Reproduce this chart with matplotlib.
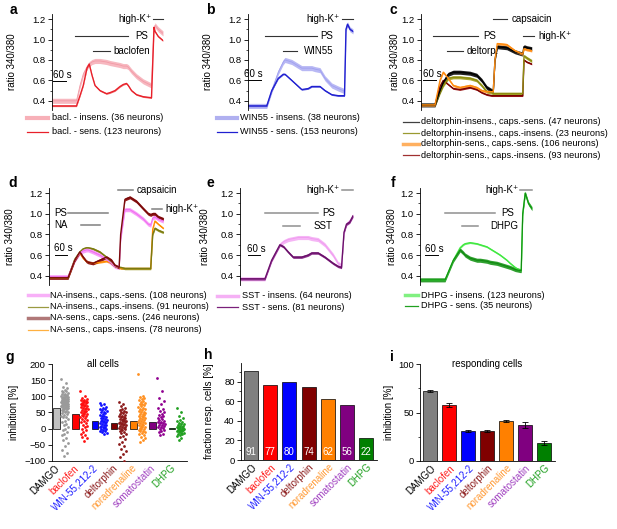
import numpy as np
import matplotlib
matplotlib.use('Agg')
import matplotlib.pyplot as plt
from matplotlib.lines import Line2D
from matplotlib.ticker import MultipleLocator

plt.rcParams['font.family'] = ['Liberation Sans', 'DejaVu Sans']
plt.rcParams['axes.linewidth'] = 0.6

# ---- calcium traces (ratio 340/380), time in s ----
a_t = [0, 98, 112, 125, 140, 149, 160, 172, 192, 218, 232, 252, 272, 285, 298, 305, 318, 338, 365, 398, 402, 408, 412, 425, 444]
a_insens = [0.40, 0.40, 0.55, 0.66, 0.73, 0.76, 0.78, 0.79, 0.79, 0.78, 0.77, 0.76, 0.75, 0.74, 0.74, 0.73, 0.69, 0.64, 0.59, 0.55, 0.80, 1.10, 1.14, 1.10, 1.06]
a_sens = [0.35, 0.35, 0.45, 0.55, 0.72, 0.76, 0.65, 0.55, 0.50, 0.47, 0.48, 0.50, 0.54, 0.56, 0.57, 0.55, 0.50, 0.46, 0.44, 0.43, 0.70, 1.12, 1.08, 1.03, 0.99]

b_t = [0, 75, 95, 121, 141, 148, 175, 215, 241, 255, 268, 288, 308, 335, 361, 381, 386, 392, 398, 408, 420]
b_insens = [0.35, 0.35, 0.50, 0.68, 0.78, 0.80, 0.78, 0.72, 0.72, 0.72, 0.71, 0.70, 0.62, 0.55, 0.52, 0.50, 0.49, 1.10, 1.15, 1.10, 1.08]
b_sens = [0.35, 0.35, 0.50, 0.62, 0.66, 0.66, 0.60, 0.51, 0.52, 0.54, 0.54, 0.54, 0.50, 0.46, 0.45, 0.45, 0.45, 1.10, 1.15, 1.10, 1.08]

c_t = [0, 56, 76, 89, 109, 129, 156, 196, 223, 243, 263, 283, 289, 296, 305, 343, 376, 403, 407, 412, 423, 443]
c_ins_cs = [0.36, 0.36, 0.50, 0.58, 0.66, 0.68, 0.68, 0.67, 0.65, 0.60, 0.53, 0.50, 0.49, 0.80, 0.93, 0.92, 0.88, 0.86, 0.86, 0.93, 0.92, 0.91]
c_ins_ci = [0.36, 0.36, 0.48, 0.55, 0.62, 0.63, 0.63, 0.62, 0.60, 0.55, 0.49, 0.48, 0.47, 0.47, 0.47, 0.47, 0.47, 0.47, 0.47, 0.84, 0.82, 0.79]
c_sen_cs = [0.36, 0.36, 0.60, 0.68, 0.62, 0.55, 0.53, 0.55, 0.53, 0.50, 0.49, 0.49, 0.49, 0.80, 0.96, 0.95, 0.89, 0.86, 0.86, 0.91, 0.90, 0.89]
c_sen_ci = [0.36, 0.36, 0.54, 0.60, 0.56, 0.52, 0.51, 0.53, 0.51, 0.48, 0.46, 0.45, 0.45, 0.45, 0.45, 0.45, 0.45, 0.45, 0.45, 0.80, 0.78, 0.76]

d_t = [0, 76, 103, 123, 136, 149, 156, 176, 203, 229, 249, 263, 280, 286, 303, 323, 349, 376, 396, 406, 414, 423, 436, 456]
d_ins_cs = [0.39, 0.39, 0.55, 0.62, 0.64, 0.65, 0.65, 0.63, 0.60, 0.56, 0.52, 0.49, 0.48, 0.75, 1.04, 1.04, 1.00, 0.95, 0.90, 0.89, 0.96, 0.97, 0.95, 0.93]
d_ins_ci = [0.38, 0.38, 0.56, 0.63, 0.66, 0.67, 0.67, 0.66, 0.63, 0.58, 0.52, 0.49, 0.48, 0.48, 0.47, 0.47, 0.47, 0.47, 0.47, 0.47, 0.80, 0.86, 0.84, 0.82]
d_sen_cs = [0.38, 0.38, 0.55, 0.63, 0.58, 0.54, 0.53, 0.52, 0.55, 0.58, 0.55, 0.50, 0.48, 0.80, 1.14, 1.16, 1.12, 1.05, 1.00, 0.99, 1.00, 1.00, 0.97, 0.95]
d_sen_ci = [0.38, 0.38, 0.55, 0.62, 0.57, 0.54, 0.53, 0.52, 0.53, 0.54, 0.52, 0.49, 0.48, 0.47, 0.47, 0.47, 0.47, 0.47, 0.47, 0.47, 0.85, 0.93, 0.90, 0.86]

e_t = [0, 100, 127, 160, 175, 193, 213, 233, 247, 273, 287, 313, 340, 373, 393, 407, 417, 427, 440, 453]
e_insens = [0.37, 0.37, 0.55, 0.70, 0.73, 0.75, 0.76, 0.77, 0.77, 0.77, 0.76, 0.75, 0.70, 0.60, 0.52, 0.50, 0.82, 0.90, 0.93, 0.98]
e_sens = [0.37, 0.37, 0.55, 0.70, 0.68, 0.63, 0.58, 0.58, 0.58, 0.60, 0.62, 0.62, 0.58, 0.52, 0.49, 0.48, 0.82, 0.90, 0.92, 0.98]

f_t = [0, 100, 133, 160, 173, 180, 200, 227, 240, 267, 280, 307, 320, 347, 360, 380, 400, 404, 410, 420, 433, 447]
f_insens = [0.36, 0.36, 0.55, 0.67, 0.70, 0.71, 0.72, 0.71, 0.70, 0.68, 0.66, 0.62, 0.60, 0.55, 0.52, 0.48, 0.45, 0.45, 1.00, 1.20, 1.10, 1.05]
f_sens = [0.36, 0.36, 0.55, 0.65, 0.62, 0.60, 0.57, 0.55, 0.55, 0.54, 0.53, 0.52, 0.51, 0.49, 0.48, 0.46, 0.45, 0.45, 1.00, 1.20, 1.10, 1.05]

# ---- summary data ----
drugs = ['DAMGO', 'baclofen', 'WIN-55,212-2', 'deltorphin', 'noradrenaline', 'somatostatin', 'DHPG']
bar_colors = ['#808080', '#ff0000', '#0000ff', '#800000', '#ff8000', '#800080', '#008000']
lab_colors = ['#000000', '#ff2020', '#2020ff', '#8b1a1a', '#ff9933', '#a040c0', '#20a020']

inhib_all_mean = [65, 44, 25, 19, 25, 20, 1]
damgo_cells = [155, 140, 130, 125, 120, 118, 115, 112, 110, 108, 106, 105, 104, 102, 100, 99, 98, 97, 96, 95, 94, 93, 92, 91, 90, 90, 89, 88, 87, 86, 85, 85, 84, 83, 82, 81, 80, 80, 79, 78, 77, 76, 75, 75, 74, 73, 72, 71, 70, 70, 69, 68, 67, 66, 65, 64, 63, 62, 61, 60, 58, 56, 55, 53, 50, 48, 45, 42, 40, 37, 35, 30, 25, 20, 15, 10, 5, 0, -5, -10, -15, -20, -28, -35, -45, -55, -65, -75, -85]
bacl_cells = [115, 100, 95, 92, 90, 88, 86, 85, 83, 82, 80, 78, 77, 75, 74, 72, 70, 69, 67, 65, 64, 62, 60, 58, 56, 55, 53, 50, 48, 46, 44, 42, 40, 38, 35, 32, 30, 27, 24, 20, 16, 12, 8, 5, 0, -5, -10, -15, -20, -25, -30, -38]
win_cells = [80, 75, 72, 68, 65, 62, 60, 57, 55, 52, 50, 48, 45, 43, 40, 38, 36, 34, 32, 30, 28, 26, 25, 24, 22, 20, 18, 16, 14, 12, 10, 8, 6, 5, 4, 2, 0, -2, -4, -6, -8, -10, -12, -15]
delt_cells = [82, 75, 70, 65, 60, 57, 55, 52, 50, 48, 45, 43, 40, 38, 36, 35, 33, 31, 30, 28, 26, 25, 23, 22, 20, 18, 17, 15, 13, 12, 10, 8, 6, 5, 3, 1, 0, -2, -5, -8, -10, -14, -18, -22, -27, -33, -40, -48, -55, -62, -70, -78, -88, -100]
na_cells = [170, 100, 97, 94, 91, 88, 85, 82, 80, 77, 75, 72, 70, 67, 65, 62, 60, 57, 55, 52, 50, 48, 46, 44, 42, 40, 38, 36, 34, 32, 30, 28, 26, 24, 22, 20, 18, 16, 14, 12, 10, 8, 6, 4, 2, 0, -2, -4, -6, -8, -10, -13, -16, -20, -25, -30, -35, -40]
sst_cells = [158, 115, 95, 85, 75, 65, 60, 55, 50, 46, 42, 38, 35, 32, 30, 28, 25, 22, 20, 18, 16, 14, 12, 10, 8, 6, 4, 2, 0, -3, -6, -10, -15, -20]
dhpg_cells = [65, 50, 40, 32, 28, 24, 20, 17, 15, 13, 11, 9, 7, 6, 5, 4, 3, 2, 1, 0, -1, -2, -3, -4, -5, -6, -7, -8, -10, -12, -14, -16, -18, -20, -24, -28, -35]

frac_resp = [91, 77, 80, 74, 62, 56, 22]
inhib_resp_mean = [72, 58, 31, 31, 41, 37, 19]
inhib_resp_sem = [1, 2, 1, 1, 1, 3, 2]

W, H = 617, 529
fig = plt.figure(figsize=(W / 100, H / 100), dpi=100)
FS = 6.5


def add_ax(l, t, r, b):
    return fig.add_axes([l / W, 1 - b / H, (r - l) / W, (b - t) / H])


def letter(x, y, s):
    fig.text(x / W, 1 - y / H, s, fontsize=10, fontweight='bold', va='baseline', ha='center')


def legend(x0, x1, xt, ys, entries):
    for y, (lab, col, lw) in zip(ys, entries):
        fig.add_artist(Line2D([x0 / W, x1 / W], [1 - y / H] * 2, color=col, lw=lw))
        fig.text(xt / W, 1 - y / H, lab, fontsize=6.6, va='center')


def trace_panel(l, r, top, bot, xmax, series, stim, stimcol, stimlw, sbar, ylab_x):
    ax = add_ax(l, top, r, bot)
    for t, v, sem, col, band, lw in series:
        t = np.array(t)
        v = np.array(v)
        ax.fill_between(t, v - sem, v + sem, color=band, lw=0)
        ax.plot(t, v, color=col, lw=lw)
    for x0, x1, y, txt, tx, ha in stim:
        ax.plot([x0, x1], [y, y], color=stimcol, lw=stimlw, clip_on=False)
        ax.text(tx, y, txt, ha=ha, va='center', fontsize=FS + 0.5, clip_on=False)
    # 60 s scale bar
    ax.plot([sbar[0], sbar[0] + 50], [sbar[1]] * 2, color='k', lw=0.7, clip_on=False)
    ax.text(sbar[2], sbar[1] + 0.015, '60 s', fontsize=FS + 0.5, va='bottom', clip_on=False)
    ax.set_xlim(0, xmax)
    ax.set_ylim(0.31, 1.25)
    for s in ['top', 'right', 'bottom']:
        ax.spines[s].set_visible(False)
    ax.set_xticks([])
    ax.set_yticks([0.4, 0.6, 0.8, 1.0, 1.2])
    ax.set_yticklabels(['0.4', '0.6', '0.8', '1.0', '1.2'])
    ax.yaxis.set_minor_locator(MultipleLocator(0.1))
    ax.tick_params(axis='y', which='major', length=3, width=0.6, labelsize=FS + 0.3, pad=1.5)
    ax.tick_params(axis='y', which='minor', length=1.8, width=0.5)
    ax.set_ylabel('ratio 340/380', fontsize=7)
    ax.yaxis.set_label_coords((ylab_x - l) / (r - l), 0.5)
    ax.patch.set_alpha(0)
    return ax


HK = 'high-K\u207a'

# a
ax_a = trace_panel(52, 163, 14, 110, 444,
                   [(a_t, a_insens, 0.025, '#f29aa6', '#f7b8c0', 0.6),
                    (a_t, a_sens, 0.007, '#e8202a', '#f07070', 1.0)],
                   [(92, 305, 1.03, 'PS', 332, 'left'), (165, 232, 0.89, 'baclofen', 245, 'left'),
                    (403, 445, 1.2, HK, 399, 'right')],
                   '#333333', 0.8, (5, 0.59, 5), 17)
letter(13, 14, 'a')
legend(27, 48, 52, [118, 132], [('bacl. - insens. (36 neurons)', '#f7b0b8', 3),
                                ('bacl. - sens. (123 neurons)', '#e8202a', 0.9)])

# b
trace_panel(248, 353, 14, 110, 420,
            [(b_t, b_insens, 0.025, '#a0a0f0', '#b8b8f4', 0.6),
             (b_t, b_sens, 0.007, '#2020d0', '#6060e0', 1.0)],
            [(68, 275, 1.03, 'PS', 288, 'left'), (141, 195, 0.89, 'WIN55', 224, 'left'),
             (375, 421, 1.2, HK, 368, 'right')],
            '#333333', 0.8, (0, 0.6, -14), 213)
letter(210, 14, 'b')
legend(217, 237, 240, [118, 132], [('WIN55 - insens. (38 neurons)', '#b0b0f0', 3),
                                   ('WIN55 - sens. (153 neurons)', '#2020d0', 0.9)])

# c
trace_panel(421, 532, 14, 110, 444,
            [(c_t, c_sen_ci, 0.008, '#7a0000', '#a02020', 1.0),
             (c_t, c_ins_ci, 0.015, '#8c8c10', '#a8a830', 1.0),
             (c_t, c_ins_cs, 0.02, '#000000', '#202020', 1.0),
             (c_t, c_sen_cs, 0.012, '#ff8c10', '#ffa040', 1.0)],
            [(49, 229, 1.03, 'PS', 247, 'left'), (103, 169, 0.89, 'deltorp.', 183, 'left'),
             (289, 343, 1.2, 'capsaicin', 363, 'left'), (409, 452, 1.03, HK, 469, 'left')],
            '#333333', 0.8, (9, 0.6, 7), 400)
letter(393, 14, 'c')
legend(403, 419, 421, [122, 133, 144, 155],
       [('deltorphin-insens., caps.-sens. (47 neurons)', '#404040', 0.9),
        ('deltorphin-insens., caps.-insens. (23 neurons)', '#9a9a30', 0.9),
        ('deltorphin-sens., caps.-sens. (106 neurons)', '#ffb060', 2.5),
        ('deltorphin-sens., caps.-insens. (93 neurons)', '#a03030', 0.9)])

# d
trace_panel(49, 165, 188, 285, 463,
            [(d_t, d_sen_ci, 0.008, '#ff8c00', '#ffa030', 1.0),
             (d_t, d_ins_ci, 0.012, '#7a7a10', '#9a9a30', 1.0),
             (d_t, d_ins_cs, 0.02, '#f070f0', '#f8a0f8', 0.8),
             (d_t, d_sen_cs, 0.015, '#7a0a0a', '#901818', 1.0)],
            [(76, 236, 1.006, 'PS', 22, 'left'), (129, 203, 0.887, 'NA', 22, 'left'),
             (276, 336, 1.226, 'capsaicin', 349, 'left'), (410, 450, 1.045, HK, 463, 'left')],
            '#808080', 1.1, (23, 0.603, 21), 15)
letter(13, 187, 'd')
legend(28, 48, 50, [295, 306.5, 318, 329.5],
       [('NA-insens., caps.-sens. (108 neurons)', '#f8b0f8', 2.5),
        ('NA-insens., caps.-insens. (91 neurons)', '#9a9a40', 0.9),
        ('NA-sens., caps.-sens. (246 neurons)', '#b07878', 2.5),
        ('NA-sens., caps.-insens. (78 neurons)', '#ffb040', 0.9)])

# e
trace_panel(240, 353, 188, 285, 453,
            [(e_t, e_insens, 0.02, '#f09af0', '#f5b5f5', 0.6),
             (e_t, e_sens, 0.012, '#6a106a', '#8a308a', 1.0)],
            [(100, 313, 1.006, 'PS', 329, 'left'), (173, 240, 0.884, 'SST', 293, 'left'),
             (407, 453, 1.226, HK, 400, 'right')],
            '#909090', 1.1, (31, 0.6, 28), 210)
letter(210, 187, 'e')
legend(217, 238, 242, [296, 307], [('SST - insens. (64 neurons)', '#f5b0f5', 2.5),
                                   ('SST - sens. (81 neurons)', '#7a207a', 0.9)])

# f
trace_panel(420, 532, 188, 285, 447,
            [(f_t, f_insens, 0.008, '#40e840', '#70f070', 1.0),
             (f_t, f_sens, 0.02, '#108a10', '#30a030', 0.8)],
            [(100, 300, 1.006, 'PS', 323, 'left'), (167, 233, 0.884, 'DHPG', 280, 'left'),
             (400, 447, 1.226, HK, 393, 'right')],
            '#909090', 1.1, (20, 0.6, 18), 397)
letter(393, 187, 'f')
legend(405, 418, 421, [295, 306], [('DHPG - insens. (123 neurons)', '#80f080', 2.5),
                                   ('DHPG - sens. (35 neurons)', '#20a020', 0.9)])


def bottom_style(ax, ylab, ylab_x, l, r):
    for s in ['top', 'right']:
        ax.spines[s].set_visible(False)
    ax.tick_params(axis='y', which='major', length=3, width=0.6, labelsize=FS + 0.3, pad=1.5)
    ax.tick_params(axis='y', which='minor', length=1.8, width=0.5)
    ax.tick_params(axis='x', length=0, pad=4)
    ax.set_ylabel(ylab, fontsize=7)
    ax.yaxis.set_label_coords((ylab_x - l) / (r - l), 0.5)
    for tl, c in zip(ax.get_xticklabels(), lab_colors):
        tl.set_color(c)
        tl.set_rotation(45)
        tl.set_ha('right')
        tl.set_va('center')
        tl.set_rotation_mode('anchor')
        tl.set_fontsize(7)


# g
ax = add_ax(52, 364, 187, 461)
cells = [damgo_cells, bacl_cells, win_cells, delt_cells, na_cells, sst_cells, dhpg_cells]
g_bar_colors = ['#c0c0c0'] + bar_colors[1:]
pt_colors = ['#9a9a9a', '#ff1010', '#1010ff', '#8b1a1a', '#ff9020', '#900090', '#20a020']
for i, vals in enumerate(cells):
    ax.bar(i + 0.22, inhib_all_mean[i], width=0.34, color=g_bar_colors[i], edgecolor='k', lw=0.5)
    xs = [i + 0.66 + ((k * 0.618034) % 1 - 0.5) * 0.38 for k in range(len(vals))]
    ax.scatter(xs, vals, s=4, color=pt_colors[i], lw=0, zorder=3)
ax.set_xlim(0, 7)
ax.set_ylim(-100, 200)
ax.set_yticks([-100, -50, 0, 50, 100, 150, 200])
ax.set_xticks(np.arange(7) + 0.3)
ax.set_xticklabels(drugs)
ax.text(0.38, 1.0, 'all cells', transform=ax.transAxes, ha='center', va='center', fontsize=7)
bottom_style(ax, 'inhibition [%]', 19, 52, 187)
letter(10, 361, 'g')

# h
ax = add_ax(241, 363, 377, 460)
x = np.arange(7)
ax.bar(x, frac_resp, width=0.73, color=bar_colors, edgecolor='k', lw=0.5)
for i, v in enumerate(frac_resp):
    ax.text(i, 8.5, str(v), color='white', ha='center', va='center', fontsize=7)
ax.set_xlim(-0.52, 6.56)
ax.set_ylim(0, 99)
ax.set_yticks([0, 20, 40, 60, 80])
ax.yaxis.set_minor_locator(MultipleLocator(10))
ax.set_xticks(x + 0.2)
ax.set_xticklabels(drugs)
bottom_style(ax, 'fraction resp. cells [%]', 214, 241, 377)
letter(208, 359, 'h')

# i
ax = add_ax(420, 364, 555, 461)
ax.bar(x, inhib_resp_mean, width=0.73, color=bar_colors, edgecolor='k', lw=0.5,
       yerr=inhib_resp_sem, error_kw=dict(ecolor='k', elinewidth=0.6, capsize=2, capthick=0.6))
ax.set_xlim(-0.53, 6.58)
ax.set_ylim(0, 100)
ax.set_yticks([0, 50, 100])
ax.yaxis.set_minor_locator(MultipleLocator(25))
ax.set_xticks(x + 0.2)
ax.set_xticklabels(drugs)
ax.text(0.5, 1.0, 'responding cells', transform=ax.transAxes, ha='center', va='center', fontsize=7)
bottom_style(ax, 'inhibition [%]', 394, 420, 555)
letter(392, 361, 'i')

fig.savefig('out.png', dpi=100)
